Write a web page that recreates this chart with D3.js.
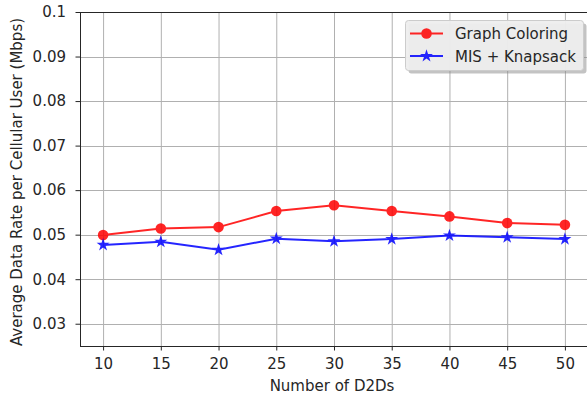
<!DOCTYPE html>
<html lang="en">
<head>
	<meta charset="UTF-8">
	<title>Average Data Rate per Cellular User</title>
	<script src="https://cdn.jsdelivr.net/npm/d3@7/dist/d3.min.js"></script>
	<style>
		body { margin: 0; background: #fff; }
		text { font-family: "DejaVu Sans", sans-serif; fill: #262626; }
		.grid line { stroke: #b0b0b0; stroke-width: 1; }
	</style>
</head>
<body>
	<div id="container"></div>
	<script>
		var d2ds = [10, 15, 20, 25, 30, 35, 40, 45, 50];
		var graphColoring = [0.0499, 0.0514, 0.0517, 0.0553, 0.0566, 0.0553, 0.0541, 0.0526, 0.0522];
		var misKnapsack = [0.0477, 0.0484, 0.0466, 0.0491, 0.0485, 0.0490, 0.0498, 0.0494, 0.0490];
		var yTicks = [0.03, 0.04, 0.05, 0.06, 0.07, 0.08, 0.09, 0.1];
		var seriesNames = ["Graph Coloring", "MIS + Knapsack"];

		var width = 587, height = 399;
		var plot = { left: 80, top: 12, right: 588, bottom: 346 };
		var fontSize = "15px";

		var svg = d3.select("#container").append("svg")
			.attr("width", width)
			.attr("height", height);

		var x = d3.scaleLinear().domain([8, 52]).range([plot.left, plot.right]);
		var y = d3.scaleLinear().domain([0.025, 0.1]).range([plot.bottom, plot.top]);

		// grid
		var grid = svg.append("g").attr("class", "grid");
		grid.selectAll(".gx").data(d2ds).enter().append("line")
			.attr("x1", d => x(d) + 0.5).attr("x2", d => x(d) + 0.5)
			.attr("y1", plot.top).attr("y2", plot.bottom);
		grid.selectAll(".gy").data(yTicks).enter().append("line")
			.attr("x1", plot.left).attr("x2", plot.right)
			.attr("y1", d => Math.round(y(d)) + 0.5).attr("y2", d => Math.round(y(d)) + 0.5);

		// axes
		var fmt = d => d === 0.1 ? "0.1" : d3.format(".2f")(d);
		var xAxis = svg.append("g")
			.attr("transform", "translate(0," + plot.bottom + ")")
			.call(d3.axisBottom(x).tickValues(d2ds).tickSize(4.5).tickPadding(7.5));
		var yAxis = svg.append("g")
			.attr("transform", "translate(" + plot.left + ",0)")
			.call(d3.axisLeft(y).tickValues(yTicks).tickFormat(fmt).tickSize(4.5).tickPadding(9.5));
		[xAxis, yAxis].forEach(function(a) {
			a.select(".domain").remove();
			a.selectAll("line").attr("stroke", "#262626");
			a.selectAll("text").style("font-size", fontSize).attr("fill", "#262626")
				.style("font-family", "'DejaVu Sans', sans-serif");
		});

		// frame
		svg.append("rect")
			.attr("x", plot.left + 0.5).attr("y", plot.top + 0.5)
			.attr("width", plot.right - plot.left).attr("height", plot.bottom - plot.top)
			.attr("fill", "none").attr("stroke", "#262626").attr("stroke-width", 1);

		// labels
		svg.append("text")
			.attr("x", 332).attr("y", 391)
			.attr("text-anchor", "middle").style("font-size", fontSize)
			.text("Number of D2Ds");
		svg.append("text")
			.attr("transform", "translate(22,182) rotate(-90)")
			.attr("text-anchor", "middle").style("font-size", fontSize)
			.text("Average Data Rate per Cellular User (Mbps)");

		var star = d3.symbol().type(d3.symbolStar).size(52);
		var line = d3.line().x(d => x(d[0])).y(d => y(d[1]));

		function drawSeries(values, color, marker) {
			var pts = d2ds.map((d, i) => [d, values[i]]);
			var g = svg.append("g").attr("opacity", 0.85);
			g.append("path").datum(pts).attr("d", line)
				.attr("fill", "none").attr("stroke", color).attr("stroke-width", 2);
			if (marker === "circle") {
				g.selectAll("circle").data(pts).enter().append("circle")
					.attr("cx", d => x(d[0])).attr("cy", d => y(d[1])).attr("r", 5.3)
					.attr("fill", color);
			} else {
				g.selectAll(".star").data(pts).enter().append("path")
					.attr("transform", d => "translate(" + x(d[0]) + "," + y(d[1]) + ")")
					.attr("d", star).attr("fill", color);
			}
		}
		drawSeries(graphColoring, "#ff0000", "circle");
		drawSeries(misKnapsack, "#0000ff", "star");

		// legend
		var lg = svg.append("g");
		lg.append("rect").attr("x", 408.5).attr("y", 23.5).attr("width", 178).attr("height", 50)
			.attr("rx", 3).attr("fill", "#888").attr("opacity", 0.5);
		lg.append("rect").attr("x", 405.5).attr("y", 20.5).attr("width", 178).attr("height", 50)
			.attr("rx", 3).attr("fill", "#eeeeee").attr("fill-opacity", 0.95).attr("stroke", "#cccccc");
		var colors = ["#ff0000", "#0000ff"];
		seriesNames.forEach(function(name, i) {
			var cy = 33.5 + i * 22.5;
			var item = lg.append("g").attr("opacity", 0.85);
			item.append("line").attr("x1", 410).attr("x2", 443).attr("y1", cy).attr("y2", cy)
				.attr("stroke", colors[i]).attr("stroke-width", 2);
			if (i === 0) {
				item.append("circle").attr("cx", 426.5).attr("cy", cy).attr("r", 5.3).attr("fill", colors[i]);
			} else {
				item.append("path").attr("transform", "translate(426.5," + cy + ")").attr("d", star).attr("fill", colors[i]);
			}
			lg.append("text").attr("x", 455).attr("y", cy + 5.5).style("font-size", fontSize).text(name);
		});
	</script>
</body>
</html>
